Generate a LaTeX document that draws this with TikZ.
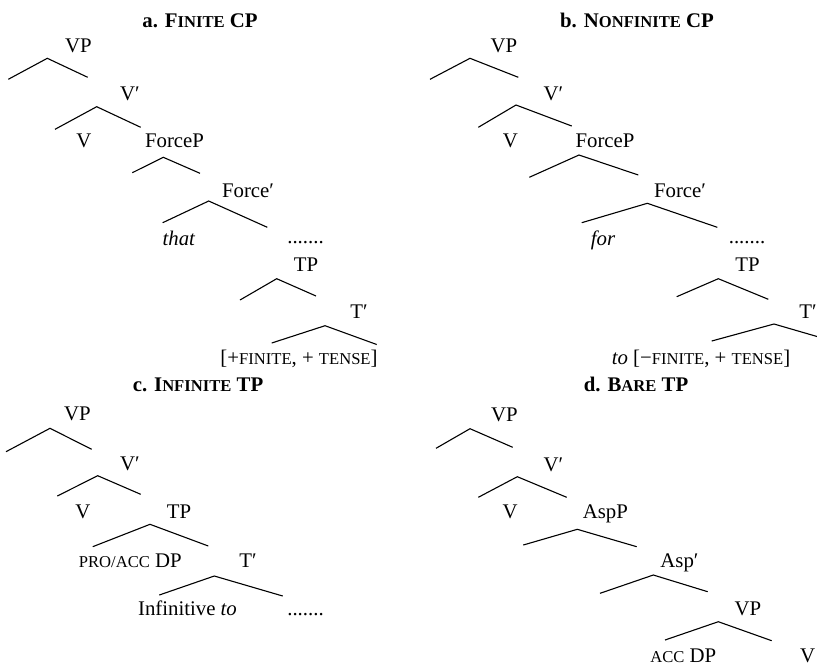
\documentclass[tikz,border=0pt]{standalone}
\usepackage{fontspec}
\setmainfont{Liberation Serif}
\newcommand\fakesc[1]{{\fontsize{8.3}{10}\selectfont #1}}

\begin{document}
\begin{tikzpicture}[x=0.5pt, y=-0.5pt, font=\fontsize{10.4}{12.5}\selectfont,
  lbl/.style={inner sep=0pt, anchor=base},
  br/.style={draw=black, line width=0.55pt}]
\useasboundingbox (0,0) rectangle (817,665);
% a. finite CP
\node[lbl, font=\fontsize{10.4}{12.5}\selectfont\bfseries] (G1Ntitle) at (200,27) {a. F\fakesc{INITE} CP};
\node[lbl] (G1NVP) at (78.5,52) {VP};
\node[lbl] (G1NVbar) at (130,100) {V′};
\node[lbl] (G1NV) at (84,147) {V};
\node[lbl] (G1NForceP) at (174.5,147) {ForceP};
\node[lbl] (G1NForcebar) at (248,197) {Force′};
\node[lbl] (G1Nthat) at (179,245) {\textit{that}};
\node[lbl] (G1Ndots) at (305.5,243) {.......};
\node[lbl] (G1NTP) at (306,271) {TP};
\node[lbl] (G1NTbar) at (359,318) {T′};
\node[lbl] (G1Nfeat) at (299,364) {[+\fakesc{FINITE}, + \fakesc{TENSE}]};
\coordinate (G1A1) at (47.3,58.3); \coordinate (G1L1) at (8.3,79.3); \coordinate (G1R1) at (87.7,77.3);
\coordinate (G1A2) at (96.7,106.7); \coordinate (G1L2) at (55,129.3); \coordinate (G1R2) at (140.7,127.3);
\coordinate (G1A3) at (163.3,157.3); \coordinate (G1L3) at (132.3,172.7); \coordinate (G1R3) at (200,173.3);
\coordinate (G1A4) at (208.7,201); \coordinate (G1L4) at (162.7,222.7); \coordinate (G1R4) at (267.3,227.3);
\coordinate (G1A5) at (276.7,278.7); \coordinate (G1L5) at (240,300); \coordinate (G1R5) at (316,296);
\coordinate (G1A6) at (325,325.7); \coordinate (G1L6) at (271.7,343); \coordinate (G1R6) at (376.7,344.5);
\draw[br] (G1L1) -- (G1A1) -- (G1R1);
\draw[br] (G1L2) -- (G1A2) -- (G1R2);
\draw[br] (G1L3) -- (G1A3) -- (G1R3);
\draw[br] (G1L4) -- (G1A4) -- (G1R4);
\draw[br] (G1L5) -- (G1A5) -- (G1R5);
\draw[br] (G1L6) -- (G1A6) -- (G1R6);
% b. nonfinite CP
\node[lbl, font=\fontsize{10.4}{12.5}\selectfont\bfseries] (G2Ntitle) at (637,27) {b. N\fakesc{ONFINITE} CP};
\node[lbl] (G2NVP) at (504,52) {VP};
\node[lbl] (G2NVbar) at (553.5,100) {V′};
\node[lbl] (G2NV) at (510.3,147) {V};
\node[lbl] (G2NForceP) at (605,147) {ForceP};
\node[lbl] (G2NForcebar) at (680,197) {Force′};
\node[lbl] (G2Nfor) at (603,245) {\textit{for}};
\node[lbl] (G2Ndots) at (747,243) {.......};
\node[lbl] (G2NTP) at (747.5,271) {TP};
\node[lbl] (G2NTbar) at (808,318) {T′};
\node[lbl] (G2Nfeat) at (701,364) {\textit{to} [−\fakesc{FINITE}, + \fakesc{TENSE}]};
\coordinate (G2A1) at (470,58.3); \coordinate (G2L1) at (430,79.3); \coordinate (G2R1) at (518.3,77.3);
\coordinate (G2A2) at (516,105); \coordinate (G2L2) at (478.3,127.3); \coordinate (G2R2) at (571.7,126);
\coordinate (G2A3) at (579,155); \coordinate (G2L3) at (529.3,177.3); \coordinate (G2R3) at (638.3,175);
\coordinate (G2A4) at (647.3,203.3); \coordinate (G2L4) at (581.7,222.7); \coordinate (G2R4) at (717.3,227.3);
\coordinate (G2A5) at (718.3,278.7); \coordinate (G2L5) at (676.7,296.7); \coordinate (G2R5) at (768.3,299.3);
\coordinate (G2A6) at (774,324); \coordinate (G2L6) at (711.7,341); \coordinate (G2R6) at (817,336.5);
\draw[br] (G2L1) -- (G2A1) -- (G2R1);
\draw[br] (G2L2) -- (G2A2) -- (G2R2);
\draw[br] (G2L3) -- (G2A3) -- (G2R3);
\draw[br] (G2L4) -- (G2A4) -- (G2R4);
\draw[br] (G2L5) -- (G2A5) -- (G2R5);
\draw[br] (G2L6) -- (G2A6) -- (G2R6);
% c. infinite TP
\node[lbl, font=\fontsize{10.4}{12.5}\selectfont\bfseries] (G3Ntitle) at (198,391) {c. I\fakesc{NFINITE} TP};
\node[lbl] (G3NVP) at (77.5,420) {VP};
\node[lbl] (G3NVbar) at (130,470) {V′};
\node[lbl] (G3NV) at (83,518) {V};
\node[lbl] (G3NTP) at (179,518) {TP};
\node[lbl] (G3NDP) at (130.3,567) {\fakesc{PRO/ACC} DP};
\node[lbl] (G3NTbar) at (248,567) {T′};
\node[lbl] (G3Nto) at (187.5,615.5) {Infinitive \textit{to}};
\node[lbl] (G3Ndots) at (305.5,615) {.......};
\coordinate (G3A1) at (50,428.3); \coordinate (G3L1) at (6,451.7); \coordinate (G3R1) at (91.7,449.3);
\coordinate (G3A2) at (97.7,475.7); \coordinate (G3L2) at (57.3,496); \coordinate (G3R2) at (140.7,494.3);
\coordinate (G3A3) at (150,524.3); \coordinate (G3L3) at (92.7,546.7); \coordinate (G3R3) at (208.3,546);
\coordinate (G3A4) at (214.3,576); \coordinate (G3L4) at (159.3,595); \coordinate (G3R4) at (282.7,596);
\draw[br] (G3L1) -- (G3A1) -- (G3R1);
\draw[br] (G3L2) -- (G3A2) -- (G3R2);
\draw[br] (G3L3) -- (G3A3) -- (G3R3);
\draw[br] (G3L4) -- (G3A4) -- (G3R4);
% d. bare TP
\node[lbl, font=\fontsize{10.4}{12.5}\selectfont\bfseries] (G4Ntitle) at (636,391) {d. B\fakesc{ARE} TP};
\node[lbl] (G4NVP) at (504.5,421) {VP};
\node[lbl] (G4NVbar) at (553.3,471) {V′};
\node[lbl] (G4NV) at (510,518) {V};
\node[lbl] (G4NAspP) at (605.3,518) {AspP};
\node[lbl] (G4NAspbar) at (679.5,567) {Asp′};
\node[lbl] (G4NVPlow) at (748,615) {VP};
\node[lbl] (G4NDP) at (683.3,662) {\fakesc{ACC} DP};
\node[lbl] (G4NVlow) at (807.5,662) {V};
\coordinate (G4A1) at (470,428.7); \coordinate (G4L1) at (436,448.3); \coordinate (G4R1) at (512.7,447.3);
\coordinate (G4A2) at (517.3,476.7); \coordinate (G4L2) at (478.3,497.3); \coordinate (G4R2) at (566.7,497.3);
\coordinate (G4A3) at (577.3,529.3); \coordinate (G4L3) at (523.3,545); \coordinate (G4R3) at (636.7,546.7);
\coordinate (G4A4) at (653.3,575); \coordinate (G4L4) at (600,593.3); \coordinate (G4R4) at (707.7,591.7);
\coordinate (G4A5) at (718.3,621.7); \coordinate (G4L5) at (665,640); \coordinate (G4R5) at (771.7,640.7);
\draw[br] (G4L1) -- (G4A1) -- (G4R1);
\draw[br] (G4L2) -- (G4A2) -- (G4R2);
\draw[br] (G4L3) -- (G4A3) -- (G4R3);
\draw[br] (G4L4) -- (G4A4) -- (G4R4);
\draw[br] (G4L5) -- (G4A5) -- (G4R5);
\end{tikzpicture}
\end{document}
